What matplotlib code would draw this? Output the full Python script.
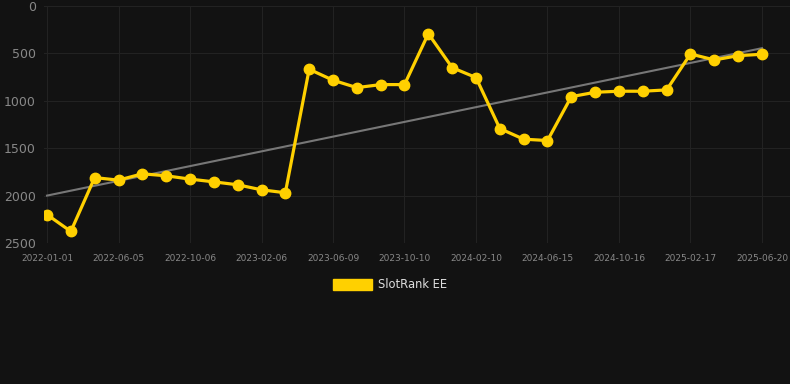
import matplotlib
matplotlib.use("Agg")
from matplotlib import pyplot as plt
from matplotlib.patches import Patch

# every 3rd point has a date label
tick_labels = ["2022-01-01", "2022-06-05", "2022-10-06", "2023-02-06", "2023-06-09",
               "2023-10-10", "2024-02-10", "2024-06-15", "2024-10-16", "2025-02-17",
               "2025-06-20"]
rank = [2200, 2378, 1810, 1837, 1770, 1791, 1826, 1855, 1886, 1939, 1970,
        667, 783, 861, 829, 829, 292, 650, 755, 1293, 1405, 1419,
        956, 910, 899, 899, 885, 506, 569, 524, 509]
trend = [2000, 445]
series_name = "SlotRank EE"

bg = "#121212"
gold = "#FFD000"

fig = plt.figure(figsize=(7.9, 3.84), dpi=100, facecolor=bg)
ax = fig.add_axes([44/790, 1 - 243/384, 1 - 44/790, 237/384], facecolor=bg)

x = list(range(len(rank)))
ax.plot([x[0], x[-1]], trend, color="#777777", lw=1.5, zorder=2)
ax.plot(x, rank, color=gold, lw=2.3, marker="o", ms=7.5, zorder=3)

ax.set_ylim(2500, 0)
ax.set_yticks([0, 500, 1000, 1500, 2000, 2500])
ax.set_xlim(-0.126, 31.175)
ax.set_xticks(x[::3])
ax.set_xticklabels(tick_labels)

ax.grid(True, color="#222222", lw=0.8)
ax.set_axisbelow(True)
for s in ax.spines.values():
    s.set_visible(False)
ax.tick_params(axis="both", length=0, colors="#888888")
ax.tick_params(axis="y", labelsize=9, pad=6)
ax.tick_params(axis="x", labelsize=6.5, pad=8)

fig.legend(handles=[Patch(color=gold, label=series_name)], loc="center",
           bbox_to_anchor=(390/790, 1 - 285/384), frameon=False, fontsize=8.3,
           labelcolor="#dddddd", handlelength=3.4, handleheight=1.0, handletextpad=0.5)

fig.savefig("out.png", dpi=100, facecolor=bg)
